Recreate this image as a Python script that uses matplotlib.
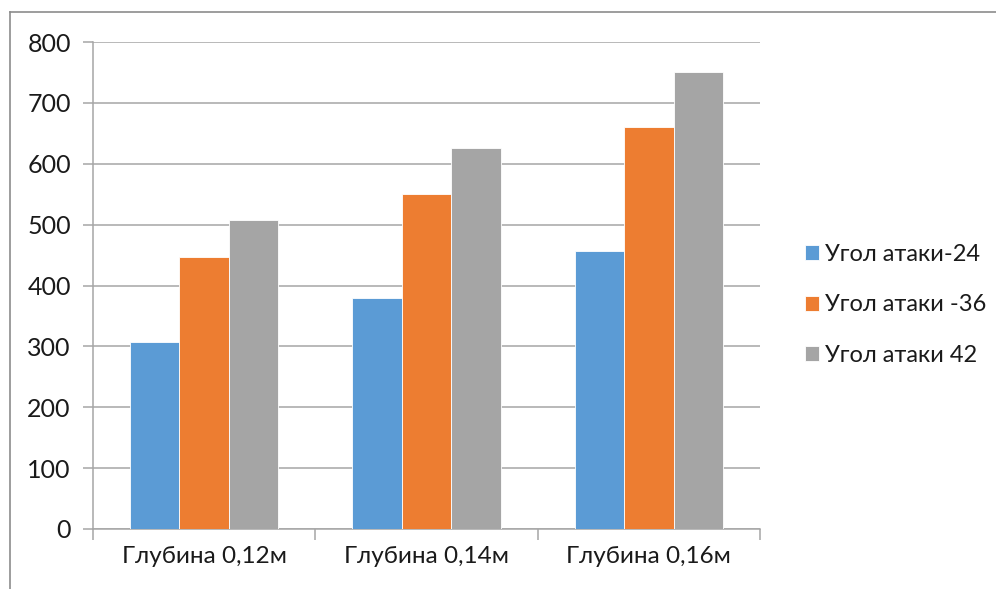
import matplotlib.pyplot as plt
import numpy as np

# depth groups and attack-angle series
categories = ["Глубина 0,12м", "Глубина 0,14м", "Глубина 0,16м"]
series_names = ["Угол атаки-24", "Угол атаки -36", "Угол атаки 42"]
angle_24 = [307, 380, 456]
angle_36 = [446, 550, 660]
angle_42 = [507, 626, 750]
y_ticks = [0, 100, 200, 300, 400, 500, 600, 700, 800]

colors = ["#5B9BD5", "#ED7D31", "#A5A5A5"]
plt.rcParams["font.family"] = ["Lato", "DejaVu Sans"]

fig = plt.figure(figsize=(9.96, 5.89), dpi=100)
ax = fig.add_axes([93 / 996, 1 - 529 / 589, (760 - 93) / 996, (529 - 42) / 589])

x = np.arange(len(categories))
w = 1 / 4.5
for k, (vals, name) in enumerate(zip([angle_24, angle_36, angle_42], series_names)):
    ax.bar(x + (k - 1) * w, vals, w, color=colors[k], label=name,
           edgecolor="white", linewidth=0.6, zorder=3)

ax.set_xlim(-0.5, 2.5)
ax.set_ylim(0, 800)
ax.set_yticks(y_ticks)
ax.yaxis.grid(True, color="#A6A6A6", linewidth=1.1, zorder=0)

for s in ["top", "right"]:
    ax.spines[s].set_visible(False)
for s in ["left", "bottom"]:
    ax.spines[s].set_color("#A6A6A6")
    ax.spines[s].set_linewidth(1.1)

# category ticks sit on the group boundaries
ax.set_xticks([-0.5, 0.5, 1.5, 2.5], minor=False)
ax.set_xticklabels([])
ax.set_xticks(x, minor=True)
ax.set_xticklabels(categories, minor=True)
ax.tick_params(axis="x", which="major", length=8, color="#A6A6A6", width=1.1)
ax.tick_params(axis="x", which="minor", length=0, pad=12, labelsize=17.5, labelcolor="#1A1A1A")
ax.tick_params(axis="y", length=7, color="#A6A6A6", width=1.1, pad=9,
               labelsize=18, labelcolor="#1A1A1A")

ax.legend(loc="center left", bbox_to_anchor=(1.035, 0.46), frameon=False,
          fontsize=17, handlelength=0.62, handleheight=0.62, handletextpad=0.25,
          labelspacing=1.25, labelcolor="#1A1A1A")

# chart-area frame: top and left edges only
fig.add_artist(plt.Line2D([10 / 996, 1], [1 - 12 / 589] * 2, color="#8C8C8C", lw=1.2))
fig.add_artist(plt.Line2D([10 / 996] * 2, [0, 1 - 12 / 589], color="#8C8C8C", lw=1.2))

fig.savefig("out.png", dpi=100)
